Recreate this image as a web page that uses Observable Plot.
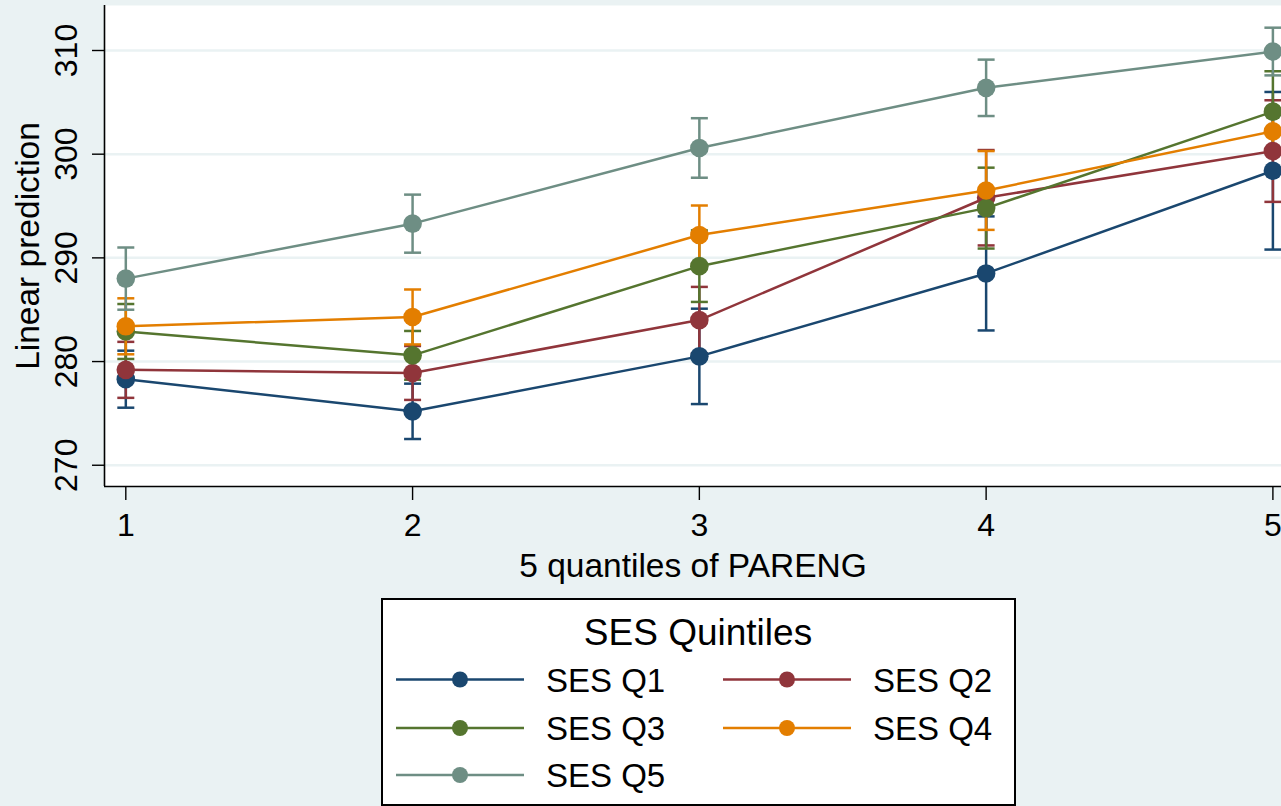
<!DOCTYPE html>
<html><head><meta charset="utf-8">
<script src="https://cdn.jsdelivr.net/npm/d3@7"></script>
<script src="https://cdn.jsdelivr.net/npm/@observablehq/plot@0.6"></script>
<style>
html,body{margin:0;padding:0;background:#EAF2F3;width:1281px;height:806px;overflow:hidden;font-family:"Liberation Sans",Arial,sans-serif;}
#chart{position:absolute;left:0;top:0;}
#legend{position:absolute;left:381px;top:598px;}
</style></head><body>
<div id="chart"></div><div id="legend"></div>
<script>
// ---- data ----
const quantiles = [1, 2, 3, 4, 5];
const seriesNames = ["SES Q1", "SES Q2", "SES Q3", "SES Q4", "SES Q5"];
const q1Mean = [278.3, 275.2, 280.5, 288.5, 298.4];
const q2Mean = [279.2, 278.9, 284.0, 295.8, 300.3];
const q3Mean = [282.9, 280.6, 289.2, 294.8, 304.1];
const q4Mean = [283.4, 284.3, 292.2, 296.5, 302.2];
const q5Mean = [288.0, 293.3, 300.6, 306.4, 309.9];
const q1Half = [2.75, 2.67, 4.6, 5.5, 7.6];
const q2Half = [2.7, 2.6, 3.2, 4.6, 4.9];
const q3Half = [2.65, 2.35, 3.45, 3.9, 3.9];
const q4Half = [2.7, 2.65, 2.85, 3.8, 1.8];
const q5Half = [3.0, 2.8, 2.87, 2.72, 2.3];
const yTicks = [270, 280, 290, 300, 310];
const xTicks = [1, 2, 3, 4, 5];
const xTitle = "5 quantiles of PARENG";
const yTitle = "Linear prediction";
const legendTitle = "SES Quintiles";

// ---- styles ----
const colors = ["#1a476f", "#90353b", "#55752f", "#e37e00", "#6e8e84"];
const font = "'Liberation Sans', Arial, sans-serif";

const means = [q1Mean, q2Mean, q3Mean, q4Mean, q5Mean];
const halves = [q1Half, q2Half, q3Half, q4Half, q5Half];
const rows = seriesNames.flatMap((s, i) => quantiles.map((q, j) => ({
  series: s, idx: i, x: q, y: means[i][j],
  lo: means[i][j] - halves[i][j], hi: means[i][j] + halves[i][j]
})));

const cap = {draw(ctx, size) { const r = Math.sqrt(size / Math.PI); ctx.moveTo(-r, 0); ctx.lineTo(r, 0); }};

const W = 1281, H = 590;
const marks = [
  Plot.frame({fill: "white", stroke: null}),
  Plot.ruleY(yTicks, {stroke: "#EAF2F3", strokeWidth: 2.5})
];
seriesNames.forEach((s, i) => {
  const d = rows.filter(r => r.idx === i);
  marks.push(Plot.ruleX(d, {x: "x", y1: "lo", y2: "hi", stroke: colors[i], strokeWidth: 2.5}));
  marks.push(Plot.dot(d, {x: "x", y: "lo", symbol: cap, r: 8.5, stroke: colors[i], strokeWidth: 2.5, fill: "none"}));
  marks.push(Plot.dot(d, {x: "x", y: "hi", symbol: cap, r: 8.5, stroke: colors[i], strokeWidth: 2.5, fill: "none"}));
});
seriesNames.forEach((s, i) => {
  const d = rows.filter(r => r.idx === i);
  marks.push(Plot.line(d, {x: "x", y: "y", stroke: colors[i], strokeWidth: 2.5}));
  marks.push(Plot.dot(d, {x: "x", y: "y", r: 9.3, fill: colors[i], stroke: null}));
});
const xDom = [0.9257, 5.03], yDom = [267.95, 314.34];
marks.push(
  Plot.ruleX([xDom[0]], {stroke: "black", strokeWidth: 1.6}),
  Plot.ruleY([yDom[0]], {stroke: "black", strokeWidth: 1.6}),
  Plot.axisX({ticks: xTicks, tickSize: 14, tickFormat: () => "", label: null, strokeWidth: 1.4}),
  Plot.axisY({ticks: yTicks, tickSize: 12, tickFormat: () => "", label: null, strokeWidth: 1.4}),
  Plot.text(xTicks, {x: d => d, text: d => `${d}`, frameAnchor: "bottom", dy: 39, fontSize: 32, lineAnchor: "middle", fill: "black"}),
  Plot.text(yTicks, {y: d => d, text: d => `${d}`, frameAnchor: "left", dx: -38, rotate: -90, fontSize: 32, textAnchor: "middle", lineAnchor: "middle", fill: "black"}),
  Plot.text([xTitle], {text: d => d, frameAnchor: "bottom", dy: 80, fontSize: 33.5, lineAnchor: "middle", fill: "black"}),
  Plot.text([yTitle], {text: d => d, frameAnchor: "left", dx: -76.5, rotate: -90, fontSize: 33.5, textAnchor: "middle", lineAnchor: "middle", fill: "black"})
);

const chart = Plot.plot({
  width: W, height: H,
  marginLeft: 104, marginTop: 5, marginRight: 0, marginBottom: H - 486,
  x: {domain: xDom},
  y: {domain: yDom},
  style: {fontFamily: font, background: "transparent", overflow: "visible"},
  marks
});
document.getElementById("chart").append(chart);

// ---- legend ----
const lg = d3.create("svg").attr("width", 636).attr("height", 210).style("display", "block").style("font-family", font);
lg.append("rect").attr("x", 1).attr("y", 1).attr("width", 633).attr("height", 206).attr("fill", "white").attr("stroke", "black").attr("stroke-width", 2);
lg.append("text").attr("x", 317).attr("y", 47).attr("text-anchor", "middle").attr("font-size", 37).text(legendTitle);
const rowY = [81.5, 81.5, 130, 130, 177];
const colX = [15, 342, 15, 342, 15];
seriesNames.forEach((s, i) => {
  const g = lg.append("g").attr("transform", `translate(${colX[i]},${rowY[i]})`);
  g.append("line").attr("x1", 0).attr("x2", 128).attr("stroke", colors[i]).attr("stroke-width", 2.5);
  g.append("circle").attr("cx", 64).attr("r", 8).attr("fill", colors[i]);
  g.append("text").attr("x", 150).attr("y", 12).attr("font-size", 33).text(s);
});
document.getElementById("legend").append(lg.node());
</script>
</body></html>
